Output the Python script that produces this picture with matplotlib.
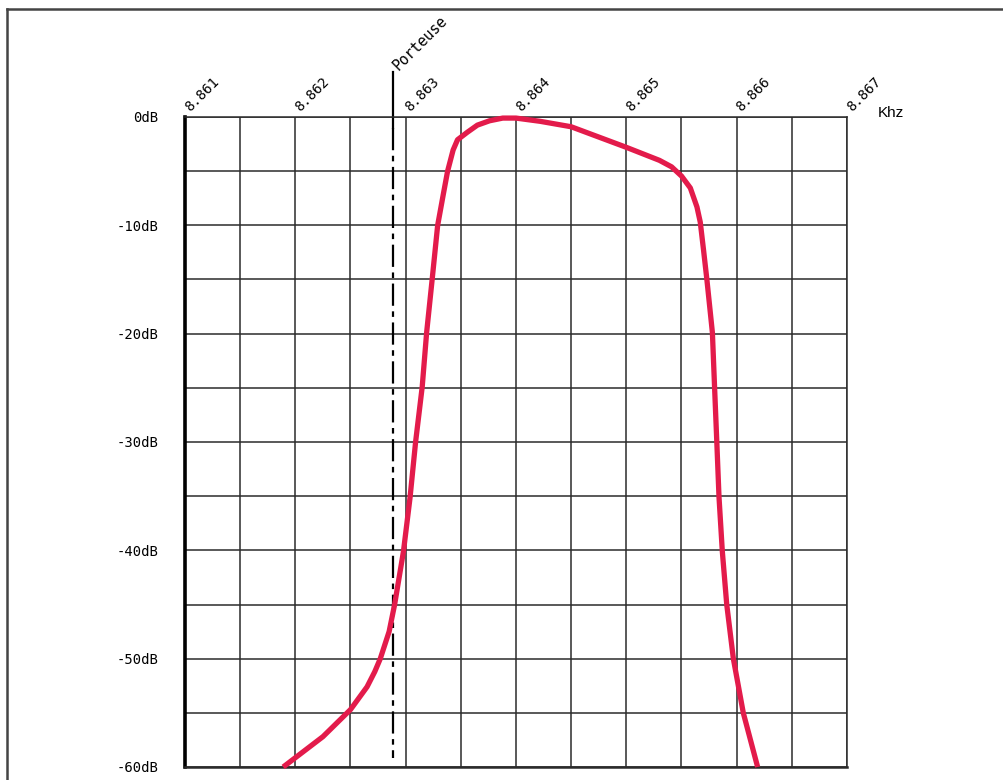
import matplotlib.pyplot as plt
from matplotlib.lines import Line2D
import matplotlib.transforms as mtransforms

plt.rcParams['lines.scale_dashes'] = False

# Filter response (kHz, dB)
freq_khz = [8.86189, 8.86225, 8.86250, 8.86265, 8.86272, 8.86277, 8.86285, 8.86290,
            8.86298, 8.86304, 8.86309, 8.86315, 8.86319, 8.86324, 8.86329, 8.86334,
            8.86338, 8.86343, 8.86347, 8.86356, 8.86365, 8.86376, 8.86388, 8.86400,
            8.86422, 8.86450, 8.86500, 8.86530, 8.86541, 8.86550, 8.86558, 8.86564,
            8.86567, 8.86570, 8.86573, 8.86578, 8.86580, 8.86582, 8.86584, 8.86587,
            8.86591, 8.86597, 8.86606, 8.86619]
level_db = [-60.0, -57.2, -54.7, -52.6, -51.2, -50.0, -47.5, -45.0,
            -40.1, -35.1, -30.0, -24.9, -19.9, -15.0, -10.0, -7.2,
            -5.0, -3.05, -2.1, -1.4, -0.75, -0.35, -0.1, -0.1,
            -0.4, -0.9, -2.8, -4.0, -4.6, -5.45, -6.55, -8.3,
            -9.7, -12.3, -15.0, -19.9, -25.0, -30.0, -35.1, -40.1,
            -45.0, -50.0, -55.0, -60.0]

x_ticks = [8.861, 8.862, 8.863, 8.864, 8.865, 8.866, 8.867]
x_labels = ['8.861', '8.862', '8.863', '8.864', '8.865', '8.866', '8.867']
y_ticks = [0, -10, -20, -30, -40, -50, -60]
y_labels = ['0dB', '-10dB', '-20dB', '-30dB', '-40dB', '-50dB', '-60dB']
carrier_khz = 8.862885

fig = plt.figure(figsize=(10.04, 7.8), dpi=100)
ax = fig.add_axes([185 / 1004, 13 / 780, 662 / 1004, 650 / 780])

ax.set_xlim(8.861, 8.867)
ax.set_ylim(-60, 0)

# grid every half division
ax.set_xticks(x_ticks)
ax.set_xticklabels(x_labels, rotation=45, ha='left', va='bottom',
                   rotation_mode='anchor', family='DejaVu Sans Mono', fontsize=10)
ax.set_xticks([8.8615, 8.8625, 8.8635, 8.8645, 8.8655, 8.8665], minor=True)
ax.set_yticks(y_ticks)
ax.set_yticklabels(y_labels, family='DejaVu Sans Mono', fontsize=10)
ax.set_yticks([-5, -15, -25, -35, -45, -55], minor=True)
ax.xaxis.tick_top()
ax.tick_params(axis='both', which='both', length=0)
ax.tick_params(axis='x', pad=3)
ax.tick_params(axis='y', pad=19)
ax.grid(True, which='both', color='#2b2b2b', linewidth=1.1)
ax.set_axisbelow(True)

shift = mtransforms.ScaledTranslation(7 / 100, -1 / 100, fig.dpi_scale_trans)
for lab in ax.get_xticklabels():
    lab.set_transform(lab.get_transform() + shift)

for side in ['top', 'right']:
    ax.spines[side].set_linewidth(1.1)
    ax.spines[side].set_color('#2b2b2b')
ax.spines['left'].set_linewidth(2.6)
ax.spines['left'].set_color('black')
ax.spines['bottom'].set_linewidth(1.8)
ax.spines['bottom'].set_color('#2b2b2b')

# carrier marker
trans = mtransforms.blended_transform_factory(ax.transData, ax.transAxes)
ax.plot([carrier_khz, carrier_khz], [1.069, 0.983], transform=trans,
        color='black', linewidth=1.6, clip_on=False)
ax.plot([carrier_khz, carrier_khz], [0.983, 0.014], transform=trans,
        color='black', linewidth=1.6, linestyle=(0, (16, 4, 4, 4)), clip_on=False)
txt_shift = mtransforms.ScaledTranslation(8 / 100, -2 / 100, fig.dpi_scale_trans)
ax.text(carrier_khz, 1.071, 'Porteuse', transform=trans + txt_shift, rotation=45,
        ha='left', va='bottom', rotation_mode='anchor',
        family='DejaVu Sans Mono', fontsize=10.5)

# response curve
ax.plot(freq_khz, level_db, color='#E31B4B', linewidth=3.8,
        solid_joinstyle='round', solid_capstyle='butt', clip_on=False, zorder=5)

fig.text(878 / 1004, 1 - 117 / 780, 'Khz', ha='left', va='baseline',
         family='Liberation Sans', fontsize=11)

# outer frame
fig.add_artist(Line2D([7 / 1004, 1.0], [1 - 9 / 780, 1 - 9 / 780],
                      color='#444444', linewidth=1.8))
fig.add_artist(Line2D([7 / 1004, 7 / 1004], [0.0, 1 - 9 / 780],
                      color='#444444', linewidth=1.8))

fig.savefig('out.png', dpi=100)
